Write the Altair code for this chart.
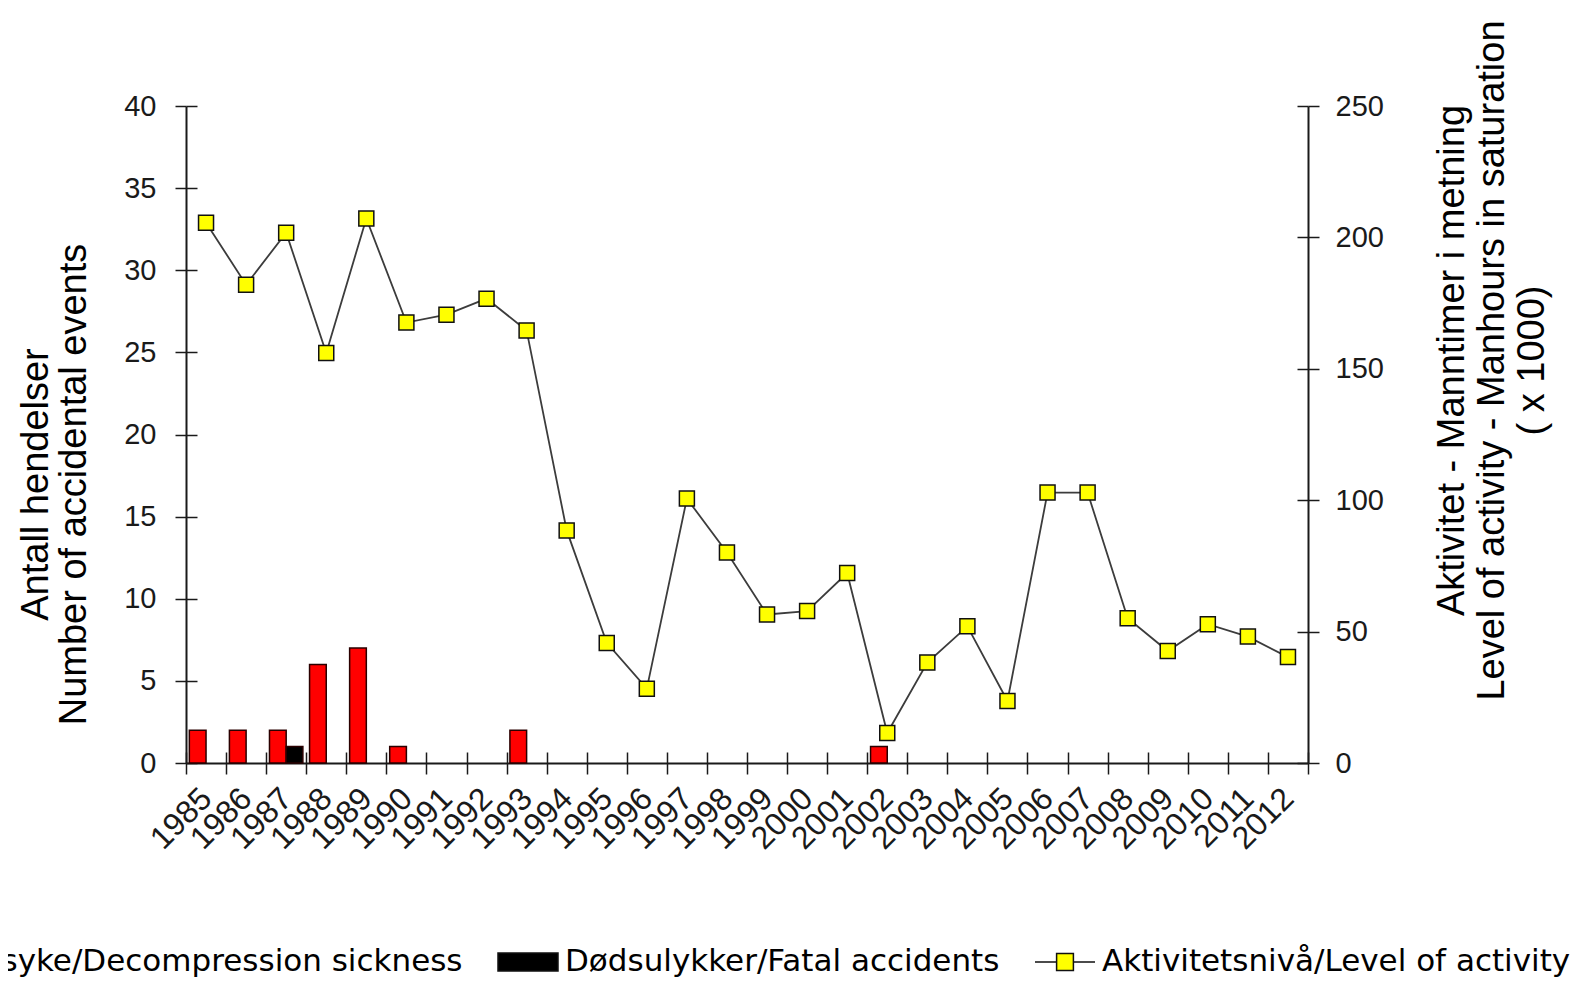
import altair as alt
import pandas as pd

# ---------------- data ----------------
years = [str(y) for y in range(1985, 2013)]
decompression = [2, 2, 2, 6, 7, 1, 0, 0, 2, 0, 0, 0, 0, 0,
                 0, 0, 0, 1, 0, 0, 0, 0, 0, 0, 0, 0, 0, 0]
fatal = [0, 0, 1, 0, 0, 0, 0, 0, 0, 0, 0, 0, 0, 0,
         0, 0, 0, 0, 0, 0, 0, 0, 0, 0, 0, 0, 0, 0]
activity = [205.6, 182.0, 201.8, 156.0, 207.2, 167.6, 170.6, 176.7, 164.6, 88.5,
            45.7, 28.3, 100.6, 80.1, 56.5, 57.8, 72.3, 11.4, 38.2, 52.0,
            23.6, 102.9, 102.9, 55.1, 42.6, 52.8, 48.1, 40.3]

S_DEC = "Trykkfallsyke/Decompression sickness"
S_FAT = "Dødsulykker/Fatal accidents"
S_ACT = "Aktivitetsnivå/Level of activity"
series_names = [S_DEC, S_FAT, S_ACT]

left_ticks = [0, 5, 10, 15, 20, 25, 30, 35, 40]
right_ticks = [0, 50, 100, 150, 200, 250]
left_title = ["Antall hendelser", "Number of accidental events"]
right_title = ["Aktivitet - Manntimer i metning",
               "Level of activity - Manhours in saturation",
               "( x 1000)"]

bars_df = pd.DataFrame({
    "year": years * 2,
    "series": [S_DEC] * len(years) + [S_FAT] * len(years),
    "value": decompression + fatal,
})
act_df = pd.DataFrame({"year": years, "activity": activity})
legend_df = pd.DataFrame({"series": series_names, "none": [None, None, None]})

# ---------------- layout ----------------
W, H = 1122, 657
AXC = "#1a1a1a"
FONT = "Liberation Sans"

x_scale = alt.Scale(domain=years, paddingInner=0, paddingOuter=0)
yl_scale = alt.Scale(domain=[0, 40], nice=False, zero=True)
yr_scale = alt.Scale(domain=[0, 250], nice=False, zero=True)

x_axis = alt.Axis(orient="bottom", title=None, labelAngle=315, labelAlign="right",
                  labelBaseline="middle", labelFont=FONT, labelFontSize=32,
                  labelColor=AXC, labelPadding=19, tickBand="extent", tickSize=11,
                  tickWidth=1.5, tickColor=AXC, domainColor=AXC, domainWidth=2,
                  labelOverlap=False, grid=False)

left_axis = alt.Axis(orient="left", values=left_ticks, title=left_title,
                     titleX=-150, titleY=378, titleAngle=270, titleAlign="center",
                     titleBaseline="middle", titleFont=FONT, titleFontSize=38,
                     titleFontWeight="normal", titleLineHeight=38, titleColor="black",
                     labelFont=FONT, labelFontSize=29, labelColor=AXC, labelPadding=19,
                     tickSize=11, tickWidth=1.5, tickColor=AXC, domainColor=AXC,
                     domainWidth=2, grid=False)

right_axis = alt.Axis(orient="right", values=right_ticks, title=right_title,
                      titleX=144, titleY=254, titleAngle=270, titleAlign="center",
                      titleBaseline="middle", titleFont=FONT, titleFontSize=38,
                      titleFontWeight="normal", titleLineHeight=40, titleColor="black",
                      labelFont=FONT, labelFontSize=29, labelColor=AXC, labelPadding=16,
                      tickSize=11, tickWidth=1.5, tickColor=AXC, domainColor=AXC,
                      domainWidth=2, grid=False)

tick_only = dict(labels=False, domain=False, title=None, ticks=True, tickSize=11,
                 tickWidth=1.5, tickColor=AXC, grid=False)

# ---------------- layers ----------------
bars = alt.Chart(bars_df).transform_filter("datum.value > 0").mark_bar(
    stroke="#2a0000", strokeWidth=1.5
).encode(
    x=alt.X("year:N", scale=x_scale, axis=x_axis),
    xOffset=alt.XOffset("series:N", scale=alt.Scale(domain=[S_DEC, S_FAT],
                                                     paddingInner=0, paddingOuter=0.2)),
    y=alt.Y("value:Q", scale=yl_scale, axis=left_axis),
    fill=alt.condition(f"datum.series == '{S_FAT}'", alt.value("#000000"), alt.value("#ff0000")),
)

line = alt.Chart(act_df).mark_line(color="#3c3c3c", strokeWidth=1.8).encode(
    x=alt.X("year:N", scale=x_scale, axis=None),
    y=alt.Y("activity:Q", scale=yr_scale, axis=right_axis),
)

points = alt.Chart(act_df).mark_point(
    shape="square", filled=True, fill="#ffff00", stroke="#111111",
    strokeWidth=1.5, size=225, opacity=1
).encode(
    x=alt.X("year:N", scale=x_scale, axis=None),
    y=alt.Y("activity:Q", scale=yr_scale, axis=None),
)

# inward halves of the crossing ticks
ltick = alt.Chart(act_df).mark_point(opacity=0, clip=True).encode(
    x=alt.X("year:N", scale=x_scale, axis=None),
    y=alt.Y("activity:Q", scale=yl_scale,
            axis=alt.Axis(orient="right", offset=-W, values=left_ticks, **tick_only)),
)
rtick = alt.Chart(act_df).mark_point(opacity=0, clip=True).encode(
    x=alt.X("year:N", scale=x_scale, axis=None),
    y=alt.Y("activity:Q", scale=yr_scale,
            axis=alt.Axis(orient="left", offset=-W, values=right_ticks, **tick_only)),
)
xtick = alt.Chart(act_df).mark_point(opacity=0, clip=True).encode(
    x=alt.X("year:N", scale=x_scale,
            axis=alt.Axis(orient="top", offset=-H, tickBand="extent", **tick_only)),
    y=alt.Y("activity:Q", scale=yr_scale, axis=None),
)

shape_range = [
    "M-1,-0.3H1V0.3H-1Z",
    "M-1,-0.3H1V0.3H-1Z",
    "M-1,0H-0.28M0.28,0H1M-0.28,-0.28H0.28V0.28H-0.28Z",
]
legend_def = alt.Legend(
    title=None, orient="none", legendX=-381, legendY=825, direction="horizontal",
    symbolSize=3600, symbolStrokeWidth=1.5,
    symbolOpacity=1, labelFont="DejaVu Sans", labelFontSize=31, labelColor="black",
    labelLimit=1000, labelOffset=6, columnPadding=32, padding=0,
)
legend_layer = alt.Chart(legend_df).mark_point(
    filled=True, stroke="#111111", strokeWidth=1.5
).encode(
    y=alt.Y("none:Q", scale=alt.Scale(domain=[0, 1]), axis=None),
    fill=alt.Fill("series:N", scale=alt.Scale(domain=series_names,
                                               range=["#ff0000", "#000000", "#ffff00"]),
                  legend=legend_def),
    shape=alt.Shape("series:N", scale=alt.Scale(domain=series_names, range=shape_range),
                    legend=legend_def),
)

chart = alt.layer(bars, line, points, ltick, rtick, xtick, legend_layer).resolve_scale(
    y="independent"
).properties(
    width=W, height=H,
    autosize=alt.AutoSizeParams(type="none"),
    padding={"left": 178, "top": 98, "right": 265, "bottom": 219},
    background="white",
).configure_view(stroke=None)

chart.save("out.html", embed_options={"renderer": "svg", "actions": False})
